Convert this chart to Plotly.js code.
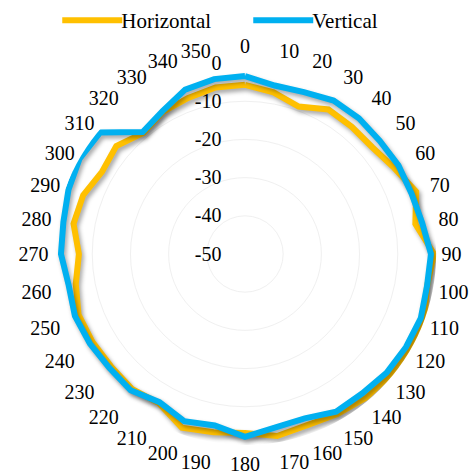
<!DOCTYPE html>
<html>
<head>
<meta charset="utf-8">
<script src="https://cdn.plot.ly/plotly-3.0.1.min.js"></script>
<style>
html,body{margin:0;padding:0;background:#fff}
#chart{width:475px;height:474px}
.polarlayer .scatterlayer .trace path.js-line{filter:drop-shadow(2px 3px 2px rgba(0,0,0,0.35));}
.legend .legendlines path.js-line{transform:translateX(6px);}
</style>
</head>
<body>
<div id="chart"></div>
<script>
const angles = [0,10,20,30,40,50,60,70,80,90,100,110,120,130,140,150,160,170,180,190,200,210,220,230,240,250,260,270,280,290,300,310,320,330,340,350];
const horizontal = [-5.7,-7.0,-8.9,-6.3,-6.5,-6.5,-4.9,-2.3,-4.7,-0.5,-1.6,0,-0.5,-0.5,-0.8,-1.6,-2.3,-1.6,-3.1,-2.6,-1.6,-4.9,-3.9,-4.2,-3.9,-3.6,-5.0,-6.5,-4.4,-4.9,-6.8,-6.0,-8.6,-7.0,-6.5,-5.7];
const vertical = [-3.4,-5.2,-4.9,-3.6,-3.6,-3.9,-3.6,-3.6,-2.9,-1.3,-1.6,-1.0,-1.3,-1.6,-2.3,-2.3,-4.2,-3.9,-2.1,-4.4,-3.4,-5.2,-3.4,-3.6,-3.1,-2.6,-3.1,-1.8,-1.7,-0.8,0,-0.5,-8.3,-6.8,-4.2,-3.5];
const radialTicks = [-50,-40,-30,-20,-10,0];
const angleTickLabels = angles.map(String);

const FONT = '"Liberation Serif", "Times New Roman", serif';
function closed(a){ return a.concat([a[0]]); }

const traces = [
  {type:'scatterpolar', mode:'lines', name:'Horizontal', r:closed(horizontal), theta:closed(angles),
   line:{color:'#FFC000', width:6}},
  {type:'scatterpolar', mode:'lines', name:'Vertical', r:closed(vertical), theta:closed(angles),
   line:{color:'#00B0F0', width:6}}
];

const layout = {
  width:475, height:474,
  margin:{l:0,r:0,t:0,b:0},
  paper_bgcolor:'#fff',
  font:{family:FONT, size:20, color:'#000'},
  showlegend:true,
  legend:{orientation:'h', x:0.51, xanchor:'center', y:1.005, yanchor:'top', itemwidth:60,
          entrywidth:116, entrywidthmode:'pixels', bgcolor:'rgba(0,0,0,0)',
          font:{family:FONT, size:21, color:'#000'}},
  polar:{
    domain:{x:[0.1116,0.92], y:[0.0612,0.871]},
    bgcolor:'#fff',
    angularaxis:{rotation:90, direction:'clockwise', tickmode:'array', tickvals:angles, ticktext:angleTickLabels,
                 showline:false, showgrid:false, ticks:'outside', ticklen:1, tickcolor:'rgba(0,0,0,0)',
                 tickfont:{family:FONT, size:20, color:'#000'}},
    radialaxis:{range:[-50,0.05], tickmode:'array', tickvals:radialTicks, ticktext:radialTicks.map(String),
                angle:90, tickangle:90, showline:false, ticks:'outside', ticklen:16, tickcolor:'rgba(0,0,0,0)',
                gridcolor:'#f0f0f0', gridwidth:1,
                tickfont:{family:FONT, size:20, color:'#000'}, side:'counterclockwise'}
  }
};

Plotly.newPlot('chart', traces, layout, {displayModeBar:false, staticPlot:true});
</script>
</body>
</html>
